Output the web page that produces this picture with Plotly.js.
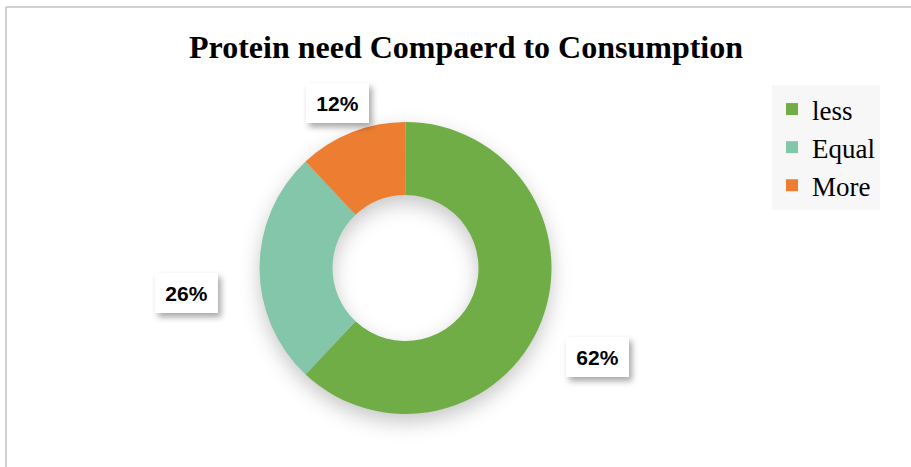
<!DOCTYPE html>
<html>
<head>
<meta charset="utf-8">
<script src="https://cdn.plot.ly/plotly-3.0.1.min.js"></script>
<style>
html,body{margin:0;padding:0;background:#fff;}
#chart{width:911px;height:467px;}
</style>
</head>
<body>
<div id="chart"></div>
<script>
// ---- data ----
const categories = ["less", "Equal", "More"];
const values = [62, 26, 12];
const percentLabels = ["62%", "26%", "12%"];
const sliceColors = ["#70AD47", "#84C6A9", "#ED7D31"];
const chartTitle = "Protein need Compaerd to Consumption";

// ---- layout constants ----
const W = 911, H = 467;
const domX = [259 / W, 552 / W];
const domY = [1 - 414 / H, 1 - 122 / H];
const labelDist = [1.45, 1.51, 1.226];   // label distance from centre, in radii
const labelShift = [3.2, -6.6, -0.8];    // best-fit angular nudge, degrees

// label positions derived from slice mid-angles (clockwise from 12 o'clock)
const total = values.reduce((a, b) => a + b, 0);
const cx = (domX[0] + domX[1]) / 2 * W;
const cy = (1 - (domY[0] + domY[1]) / 2) * H;
const R = Math.min((domX[1] - domX[0]) * W, (domY[1] - domY[0]) * H) / 2;
let cum = 0;
const annotations = values.map((v, i) => {
  const mid = (cum + v / 2) / total * 2 * Math.PI + labelShift[i] * Math.PI / 180;
  cum += v;
  const px = cx + Math.sin(mid) * R * labelDist[i];
  const py = cy - Math.cos(mid) * R * labelDist[i];
  return {
    x: px / W, y: 1 - py / H, xref: "paper", yref: "paper",
    xanchor: "center", yanchor: "middle", showarrow: false,
    text: "<b>" + percentLabels[i] + "</b>",
    font: {family: "Liberation Sans, Arial, sans-serif", size: 21, color: "#000"},
    bgcolor: "#FFFFFF", width: 63, height: 40, borderpad: 0, borderwidth: 0
  };
});

const trace = {
  type: "pie",
  labels: categories,
  values: values,
  hole: 0.5,
  sort: false,
  direction: "clockwise",
  rotation: 0,
  marker: {colors: sliceColors, line: {width: 0}},
  textinfo: "none",
  hoverinfo: "skip",
  domain: {x: domX, y: domY},
  showlegend: true
};

const layout = {
  width: W, height: H,
  margin: {l: 0, r: 0, t: 0, b: 0},
  paper_bgcolor: "#FFFFFF",
  title: {
    text: "<b>" + chartTitle + "</b>",
    font: {family: "Liberation Serif, Times New Roman, serif", size: 32, color: "#000"},
    x: 466 / W, xanchor: "center", xref: "paper",
    y: 1 - 47 / H, yanchor: "middle", yref: "container"
  },
  legend: {
    x: 772 / W, y: 1 - 85 / H, xanchor: "left", yanchor: "top",
    bgcolor: "#F7F7F7",
    font: {family: "Liberation Serif, Times New Roman, serif", size: 27, color: "#000"},
    itemwidth: 30
  },
  shapes: [
    {type: "line", xref: "paper", yref: "paper", x0: 6 / W, x1: 1, y0: 1 - 7 / H, y1: 1 - 7 / H, line: {color: "#C0C0C0", width: 1.5}},
    {type: "line", xref: "paper", yref: "paper", x0: 6 / W, x1: 6 / W, y0: 0, y1: 1 - 7 / H, line: {color: "#C0C0C0", width: 1.5}}
  ],
  annotations: annotations
};

Plotly.newPlot("chart", [trace], layout, {displayModeBar: false, staticPlot: true}).then(() => {
  document.querySelectorAll(".annotation .bg").forEach(el => {
    el.style.filter = "drop-shadow(3px 4px 3px rgba(0,0,0,0.35))";
  });
  document.querySelectorAll(".pielayer .trace").forEach(el => {
    el.style.filter = "drop-shadow(0px 8px 10px rgba(0,0,0,0.22))";
  });
});
</script>
</body>
</html>
